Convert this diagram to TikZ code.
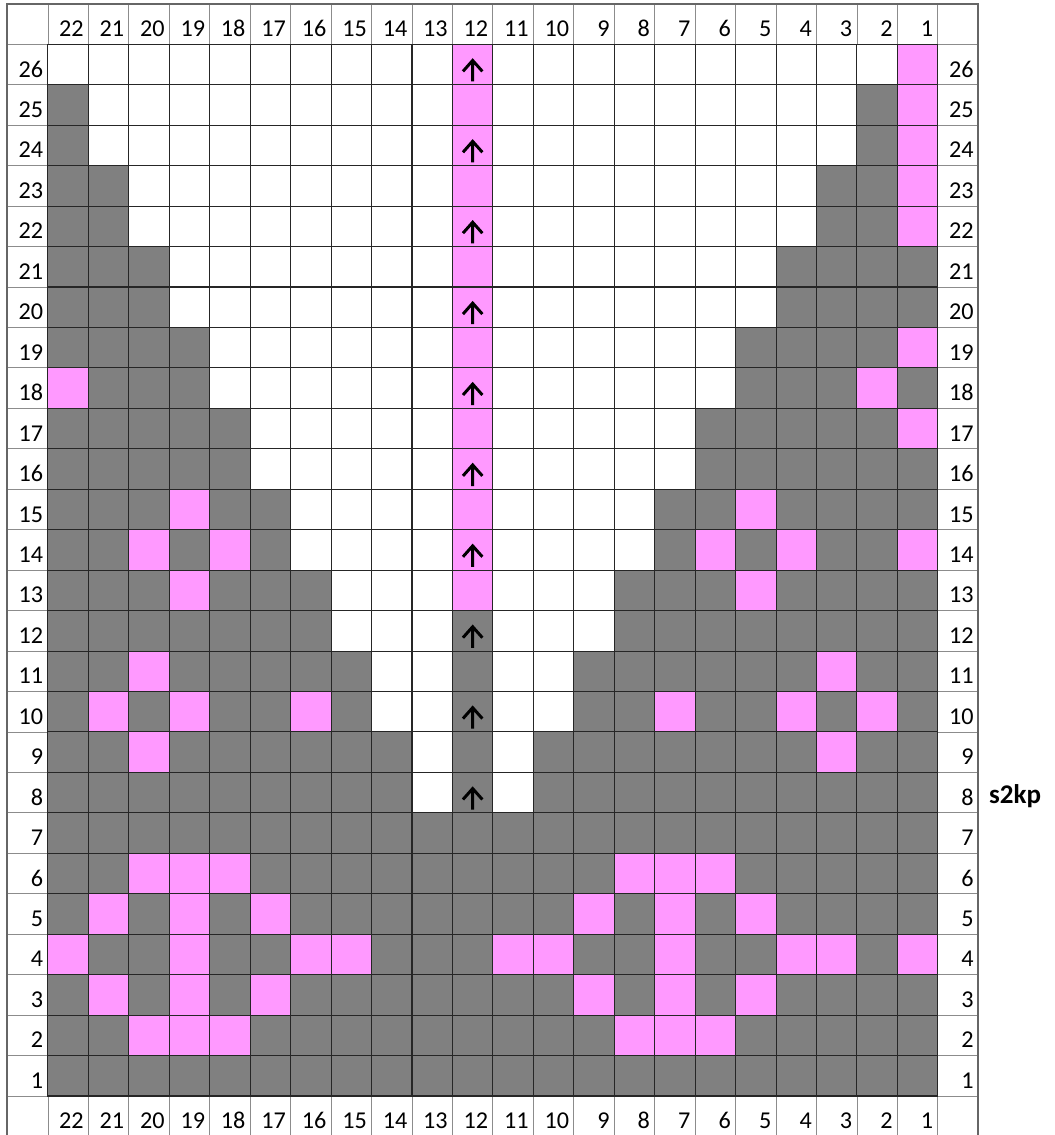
\documentclass[tikz,border=0pt]{standalone}
\usepackage{fontspec}
\setmainfont{Carlito}

\definecolor{kw}{HTML}{FFFFFF}
\definecolor{kg}{HTML}{808080}
\definecolor{kp}{HTML}{FF99FF}

\begin{document}
\begin{tikzpicture}[
  lbl/.style={draw=black!45, line width=0.6pt, minimum size=1cm, inner sep=0pt, outer sep=0pt},
  cell/.style={draw=black!85, line width=0.75pt, minimum size=1cm, inner sep=0pt, outer sep=0pt},
  num/.style={anchor=base east, inner sep=0pt, font=\fontsize{17}{20}\selectfont},
  uparr/.style={line width=2.1pt, black}
]
\useasboundingbox (-0.185,-0.964) rectangle (25.896,27.095);

% header, footer and side columns
\foreach \k in {0,...,23} {
  \node[lbl] (top-\k) at (\k+0.5,26.5) {};
  \node[lbl] (bot-\k) at (\k+0.5,-0.5) {};
}
\foreach \r in {1,...,26} {
  \node[lbl] (l-\r) at (0.5,\r-0.5) {};
  \node[lbl] (r-\r) at (23.5,\r-0.5) {};
  \node[num] (ln-\r) at ([shift={(-0.11,0.19)}]l-\r.south east) {\r};
  \node[num] (rn-\r) at ([shift={(-0.11,0.19)}]r-\r.south east) {\r};
}
\foreach \k in {1,...,22} {
  \pgfmathtruncatemacro\sn{23-\k}
  \node[num] (hn-\sn) at ([shift={(-0.11,0.19)}]top-\k.south east) {\sn};
  \node[num] (fn-\sn) at ([shift={(-0.11,0.19)}]bot-\k.south east) {\sn};
}

% stitches, from st 22 (left) to st 1 (right)
\foreach \r/\row in {
  26/{w,w,w,w,w,w,w,w,w,w,p,w,w,w,w,w,w,w,w,w,w,p},
  25/{g,w,w,w,w,w,w,w,w,w,p,w,w,w,w,w,w,w,w,w,g,p},
  24/{g,w,w,w,w,w,w,w,w,w,p,w,w,w,w,w,w,w,w,w,g,p},
  23/{g,g,w,w,w,w,w,w,w,w,p,w,w,w,w,w,w,w,w,g,g,p},
  22/{g,g,w,w,w,w,w,w,w,w,p,w,w,w,w,w,w,w,w,g,g,p},
  21/{g,g,g,w,w,w,w,w,w,w,p,w,w,w,w,w,w,w,g,g,g,g},
  20/{g,g,g,w,w,w,w,w,w,w,p,w,w,w,w,w,w,w,g,g,g,g},
  19/{g,g,g,g,w,w,w,w,w,w,p,w,w,w,w,w,w,g,g,g,g,p},
  18/{p,g,g,g,w,w,w,w,w,w,p,w,w,w,w,w,w,g,g,g,p,g},
  17/{g,g,g,g,g,w,w,w,w,w,p,w,w,w,w,w,g,g,g,g,g,p},
  16/{g,g,g,g,g,w,w,w,w,w,p,w,w,w,w,w,g,g,g,g,g,g},
  15/{g,g,g,p,g,g,w,w,w,w,p,w,w,w,w,g,g,p,g,g,g,g},
  14/{g,g,p,g,p,g,w,w,w,w,p,w,w,w,w,g,p,g,p,g,g,p},
  13/{g,g,g,p,g,g,g,w,w,w,p,w,w,w,g,g,g,p,g,g,g,g},
  12/{g,g,g,g,g,g,g,w,w,w,g,w,w,w,g,g,g,g,g,g,g,g},
  11/{g,g,p,g,g,g,g,g,w,w,g,w,w,g,g,g,g,g,g,p,g,g},
  10/{g,p,g,p,g,g,p,g,w,w,g,w,w,g,g,p,g,g,p,g,p,g},
  9/{g,g,p,g,g,g,g,g,g,w,g,w,g,g,g,g,g,g,g,p,g,g},
  8/{g,g,g,g,g,g,g,g,g,w,g,w,g,g,g,g,g,g,g,g,g,g},
  7/{g,g,g,g,g,g,g,g,g,g,g,g,g,g,g,g,g,g,g,g,g,g},
  6/{g,g,p,p,p,g,g,g,g,g,g,g,g,g,p,p,p,g,g,g,g,g},
  5/{g,p,g,p,g,p,g,g,g,g,g,g,g,p,g,p,g,p,g,g,g,g},
  4/{p,g,g,p,g,g,p,p,g,g,g,p,p,g,g,p,g,g,p,p,g,p},
  3/{g,p,g,p,g,p,g,g,g,g,g,g,g,p,g,p,g,p,g,g,g,g},
  2/{g,g,p,p,p,g,g,g,g,g,g,g,g,g,p,p,p,g,g,g,g,g},
  1/{g,g,g,g,g,g,g,g,g,g,g,g,g,g,g,g,g,g,g,g,g,g}} {
  \foreach \f [count=\k] in \row {
    \pgfmathtruncatemacro\sn{23-\k}
    \node[cell, fill=k\f] (s-\r-\sn) at (\k+0.5,\r-0.5) {};
  }
}

% outer frame
\draw[black!60, line width=1.4pt] (0,-1) rectangle (24,27);

% arrows in st 12
\foreach \r in {26,24,...,8} {
  \draw[uparr] ([yshift=0.08cm]s-\r-12.south) -- ([yshift=0.6cm]s-\r-12.south)
    ([shift={(-0.24,0.33)}]s-\r-12.south) -- ([yshift=0.6cm]s-\r-12.south)
    -- ([shift={(0.24,0.33)}]s-\r-12.south);
}

\node[anchor=base west, inner sep=0pt, font=\bfseries\fontsize{19}{22}\selectfont] (dec)
  at ([shift={(0.26,0.22)}]r-8.south east) {s2kp};
\end{tikzpicture}
\end{document}
